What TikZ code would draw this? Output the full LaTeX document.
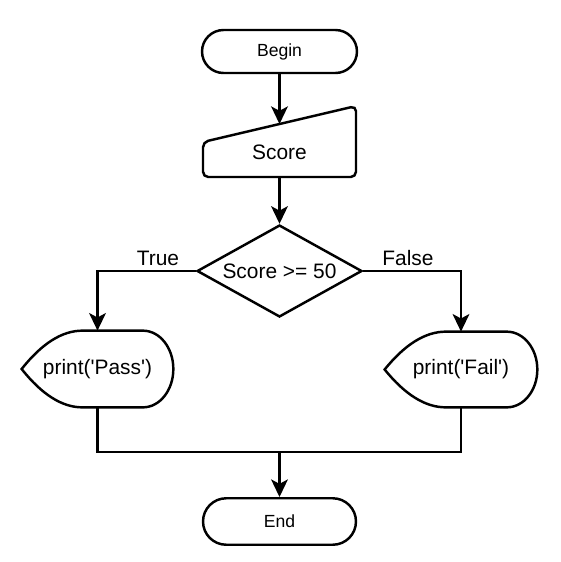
\documentclass[tikz,border=0pt]{standalone}
\usepackage{fontspec}
\setmainfont{Liberation Sans}
\usetikzlibrary{arrows.meta,shapes.geometric,shapes.misc,calc}

\begin{document}
\begin{tikzpicture}[
  x=0.02cm, y=0.02cm,
  outline/.style={draw=black, line width=1.4pt, fill=white, line join=miter},
  flow/.style={draw=black, line width=1.4pt, -{Stealth[length=10pt,width=9.5pt,inset=2.5pt]}},
  link/.style={draw=black, line width=1.4pt},
  terminal/.style={outline, rounded rectangle, inner sep=0pt,
    font=\fontsize{10}{12}\selectfont},
  decision/.style={outline, diamond, aspect=1.79, inner sep=0pt,
    minimum width=3.3cm, minimum height=1.84cm,
    font=\fontsize{11.9}{14}\selectfont},
  textonly/.style={draw=none, inner sep=0pt, font=\fontsize{11.9}{14}\selectfont},
  branch/.style={font=\fontsize{11.9}{14}\selectfont, inner sep=0pt}
]
\useasboundingbox (0,0) rectangle (561,-562);

% start and end terminals
\node[terminal, minimum width=3.1cm, minimum height=0.86cm] (begin) at (279.5,-51.5) {Begin};
\node[terminal, minimum width=3.06cm, minimum height=0.93cm] (end) at (279.5,-521.5) {End};

% manual input
\draw[outline, rounded corners=3pt] (203,-142) -- (356,-106) -- (356,-177) -- (203,-177) -- cycle;
\node[textonly] (score) at (279.5,-152) {Score};
\coordinate (scoretop) at (279.5,-124);
\coordinate (scorebot) at (279.5,-177);

% decision
\node[decision] (dec) at (279.5,-271) {Score >= 50};

% display boxes
\node[textonly, minimum width=3.02cm, minimum height=1.52cm] (pass) at (97.5,-369) {};
\node[textonly, minimum width=3.04cm, minimum height=1.5cm] (fail) at (461,-369.5) {};
\foreach \b in {pass,fail}{
  \draw[outline] let \p1=(\b.north west), \p2=(\b.south east) in
    (\x1,{0.5*(\y1+\y2)})
      .. controls ({\x1+0.1333*(\x2-\x1)},{0.5*(\y1+\y2)+0.3333*(\y1-\y2)})
         and ({\x1+0.2667*(\x2-\x1)},\y1) .. ({\x1+0.4*(\x2-\x1)},\y1)
      -- ({\x1+0.8*(\x2-\x1)},\y1)
      arc[start angle=90, end angle=-90, x radius={0.2*(\x2-\x1)}, y radius={0.5*(\y1-\y2)}]
      -- ({\x1+0.4*(\x2-\x1)},\y2)
      .. controls ({\x1+0.2667*(\x2-\x1)},\y2)
         and ({\x1+0.1333*(\x2-\x1)},{0.5*(\y1+\y2)-0.3333*(\y1-\y2)}) .. (\x1,{0.5*(\y1+\y2)})
      -- cycle;
}
\node[textonly] (passtext) at (pass) {print(\textquotesingle Pass\textquotesingle)};
\node[textonly] (failtext) at (fail) {print(\textquotesingle Fail\textquotesingle)};

% connectors
\draw[flow] (begin.south) -- (scoretop);
\draw[flow] (scorebot) -- (dec.north);
\draw[flow] (dec.west) -| (pass.north);
\draw[flow] (dec.east) -| (fail.north);
\coordinate (merge) at (279.5,-452);
\draw[link] (pass.south) |- (merge) -| (fail.south);
\draw[flow] (merge) -- (end.north);

% branch labels
\node[branch] (tlabel) at (158,-258) {True};
\node[branch] (flabel) at (408,-258) {False};
\end{tikzpicture}
\end{document}
